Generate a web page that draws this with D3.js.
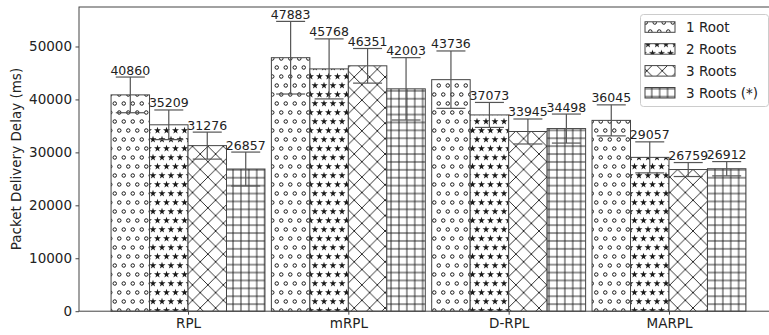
<!DOCTYPE html>
<html>
<head>
<meta charset="utf-8">
<script src="https://cdn.jsdelivr.net/npm/d3@7"></script>
<style>
  body { margin: 0; background: #fff; }
  svg { display: block; font-family: "DejaVu Sans", sans-serif; }
</style>
</head>
<body>
<div id="container"></div>
<script>
'use strict'
// values
const groups = ['RPL', 'mRPL', 'D-RPL', 'MARPL'];
const series = ['1 Root', '2 Roots', '3 Roots', '3 Roots (*)'];
const oneRoot = [40860, 47883, 43736, 36045];
const twoRoots = [35209, 45768, 37073, 29057];
const threeRoots = [31276, 46351, 33945, 26759];
const threeRootsStar = [26857, 42003, 34498, 26912];
// error bar half-lengths (estimated)
const errOneRoot = [3370, 6860, 5420, 2930];
const errTwoRoots = [2800, 5670, 2360, 2930];
const errThreeRoots = [2550, 3270, 2360, 1320];
const errThreeRootsStar = [3200, 5890, 2740, 1350];
const yTicks = [0, 10000, 20000, 30000, 40000, 50000];

const values = [oneRoot, twoRoots, threeRoots, threeRootsStar];
const errors = [errOneRoot, errTwoRoots, errThreeRoots, errThreeRootsStar];
const hatchIds = ['h-circles', 'h-stars', 'h-cross', 'h-grid'];

const width = 769;
const height = 335;
const plotTop = 7, plotBottom = 311.2, plotLeft = 79, plotRight = 778;

const rows = [];
series.forEach((s, j) => {
  groups.forEach((g, i) => {
    rows.push({g: i, s: j, v: values[j][i], e: errors[j][i]});
  });
});

const svg = d3.select('#container').append('svg')
  .attr('width', width)
  .attr('height', height);

const x = d3.scaleLinear().domain([-0.68, 3.68]).range([plotLeft, plotRight]);
const y = d3.scaleLinear().domain([0, 57460]).range([plotBottom, plotTop]);
const barW = x(0.24) - x(0);
const inner = d3.scaleBand().domain(d3.range(series.length)).range([-2 * barW, 2 * barW]);

// hatch patterns
const defs = svg.append('defs');
const ink = '#1a1a1a';
const d = 9;
const pc = defs.append('pattern').attr('id', 'h-circles')
  .attr('patternUnits', 'userSpaceOnUse').attr('width', d).attr('height', 2 * d);
pc.append('rect').attr('width', d).attr('height', 2 * d).attr('fill', '#fff');
[[d * 0.25, d * 0.5], [d * 0.75, d * 1.5]].forEach(p => {
  pc.append('circle').attr('cx', p[0]).attr('cy', p[1]).attr('r', 1.75)
    .attr('fill', 'none').attr('stroke', ink).attr('stroke-width', 1);
});

const ps = defs.append('pattern').attr('id', 'h-stars')
  .attr('patternUnits', 'userSpaceOnUse').attr('width', d).attr('height', 2 * d);
ps.append('rect').attr('width', d).attr('height', 2 * d).attr('fill', '#fff');
const star = d3.symbol().type(d3.symbolStar).size(15);
[[d * 0.5, d * 0.5], [0, d * 1.5], [d, d * 1.5]].forEach(p => {
  ps.append('path').attr('d', star()).attr('transform', `translate(${p[0]},${p[1]})`)
    .attr('fill', ink);
});

const dx = 15.4;
const px = defs.append('pattern').attr('id', 'h-cross')
  .attr('patternUnits', 'userSpaceOnUse').attr('width', dx).attr('height', dx);
px.append('rect').attr('width', dx).attr('height', dx).attr('fill', '#fff');
px.append('path').attr('d', `M0,0L${dx},${dx}M0,${dx}L${dx},0`)
  .attr('stroke', ink).attr('stroke-width', 0.9);

const gg = 7.9;
const pg = defs.append('pattern').attr('id', 'h-grid')
  .attr('patternUnits', 'userSpaceOnUse').attr('width', gg).attr('height', gg);
pg.append('rect').attr('width', gg).attr('height', gg).attr('fill', '#fff');
pg.append('path').attr('d', `M0,${gg / 2}H${gg}M${gg / 2},0V${gg}`)
  .attr('stroke', ink).attr('stroke-width', 0.9);

// bars
svg.append('g').selectAll('rect')
  .data(rows)
  .enter().append('rect')
  .attr('x', r => x(r.g) + inner(r.s))
  .attr('y', r => y(r.v))
  .attr('width', barW)
  .attr('height', r => y(0) - y(r.v))
  .attr('fill', r => `url(#${hatchIds[r.s]})`)
  .attr('stroke', '#444')
  .attr('stroke-width', 1);

// error bars
const cap = 14.5;
const eb = svg.append('g').attr('stroke', '#555').attr('stroke-width', 1.2);
rows.forEach(r => {
  const cx = x(r.g) + inner(r.s) + barW / 2;
  eb.append('line').attr('x1', cx).attr('x2', cx).attr('y1', y(r.v - r.e)).attr('y2', y(r.v + r.e));
  eb.append('line').attr('x1', cx - cap).attr('x2', cx + cap).attr('y1', y(r.v - r.e)).attr('y2', y(r.v - r.e));
  eb.append('line').attr('x1', cx - cap).attr('x2', cx + cap).attr('y1', y(r.v + r.e)).attr('y2', y(r.v + r.e));
});

// value labels
svg.append('g').selectAll('text')
  .data(rows)
  .enter().append('text')
  .attr('x', r => x(r.g) + inner(r.s) + barW / 2)
  .attr('y', r => y(r.v + r.e) - 2.5)
  .attr('text-anchor', 'middle')
  .attr('font-size', '12.5px')
  .attr('fill', '#222')
  .text(r => r.v);

// axes
const yAxis = svg.append('g').attr('transform', `translate(${plotLeft},0)`)
  .call(d3.axisLeft(y).tickValues(yTicks).tickFormat(d3.format('d')).tickSize(3.5).tickPadding(3.5));
const xAxis = svg.append('g').attr('transform', `translate(0,${plotBottom})`)
  .call(d3.axisBottom(x).tickValues(d3.range(groups.length)).tickFormat(i => groups[i]).tickSize(3.5).tickPadding(3.5));
[yAxis, xAxis].forEach(a => {
  a.selectAll('text').attr('font-size', '13.5px').attr('fill', '#222').attr('font-family', 'DejaVu Sans');
  a.selectAll('line').attr('stroke', '#444');
  a.select('.domain').remove();
});

// spines
svg.append('rect')
  .attr('x', plotLeft).attr('y', plotTop)
  .attr('width', plotRight - plotLeft).attr('height', plotBottom - plotTop)
  .attr('fill', 'none').attr('stroke', '#444').attr('stroke-width', 1);

svg.append('text')
  .attr('transform', `translate(21,${(plotTop + plotBottom) / 2}) rotate(-90)`)
  .attr('text-anchor', 'middle')
  .attr('font-size', '13.5px')
  .attr('fill', '#222')
  .text('Packet Delivery Delay (ms)');

// legend
const legend = svg.append('g');
legend.append('rect')
  .attr('x', 640.5).attr('y', 14.5).attr('width', 128).attr('height', 92).attr('rx', 3)
  .attr('fill', '#fff').attr('fill-opacity', 0.8).attr('stroke', '#ccc');
const item = legend.selectAll('g.item')
  .data(series)
  .enter().append('g').attr('class', 'item')
  .attr('transform', (s, j) => `translate(0,${27 + j * 21.9})`);
item.append('rect')
  .attr('x', 645).attr('y', -5.2).attr('width', 30).attr('height', 10.5)
  .attr('fill', (s, j) => `url(#${hatchIds[j]})`)
  .attr('stroke', '#444');
item.append('text')
  .attr('x', 686).attr('y', 4.8)
  .attr('font-size', '13.5px')
  .attr('fill', '#222')
  .text(s => s);
</script>
</body>
</html>
